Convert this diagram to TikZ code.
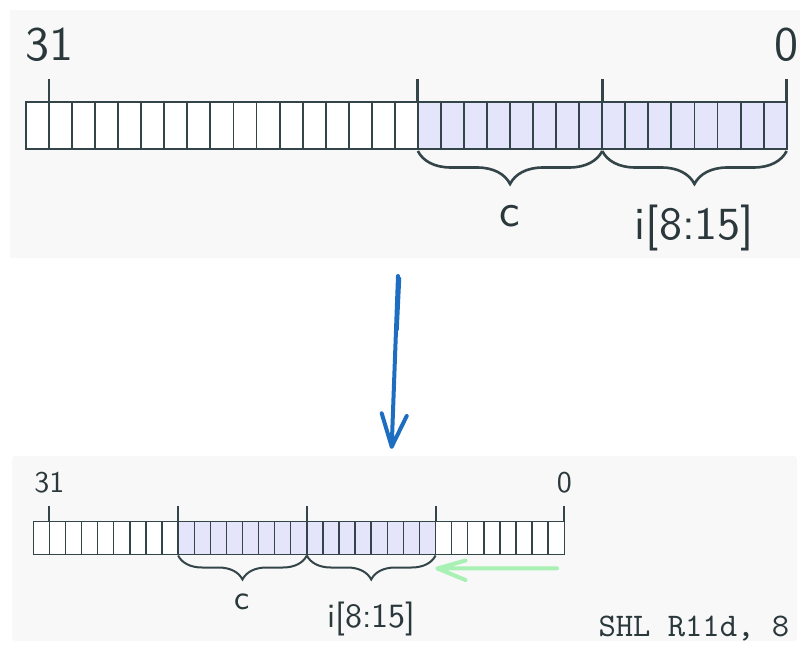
\documentclass[tikz,border=0pt]{standalone}
\usepackage{fontspec}
\usepackage{tikz}
\usetikzlibrary{arrows.meta,positioning,calc,decorations.pathreplacing}
\newfontfamily\bitsans{lmsans10-regular}[Extension=.otf]
\newfontfamily\bitmono{lmmono10-regular}[Extension=.otf]
\definecolor{regline}{HTML}{34454A}
\definecolor{regfill}{HTML}{E4E4FA}
\definecolor{panel}{HTML}{F8F8F8}
\definecolor{inkblue}{HTML}{1D6EC0}
\definecolor{inkgreen}{HTML}{A8F0B4}

\begin{document}
\begin{tikzpicture}[x=1pt,y=-1pt,
  cell/.style={draw=regline,line width=#1},
  tickmark/.style={draw=regline,line width=#1},
  regbrace/.style={draw=regline,decorate,decoration={brace,mirror,amplitude=#1}},
  bitlab/.style={inner sep=0pt,text=regline!80!black,font=\bitsans\fontsize{#1}{#1}\selectfont},
  ink/.style={line width=4pt,line cap=round,line join=round}]
\useasboundingbox (0,0) rectangle (809,650);
\fill[panel] (10,10) rectangle (800,258);
\fill[panel,rounded corners=3pt] (12,456) rectangle (797,641);

% before: c in bits 15..8, i[8:15] in bits 7..0
\fill[white] (26,101.7) rectangle (417.9,149);
\fill[regfill] (417.9,101.7) rectangle (786.7,149);
\foreach \i in {0,...,32} \draw[cell=1.9pt] ({26+23.05*\i},101.7) rectangle ++(23.05,47.3);
\foreach \k/\n in {1/ta,17/tb,25/tc,33/td} {
  \coordinate (\n) at ({26+23.05*\k},101.7);
  \coordinate (\n b) at ({26+23.05*\k},151);
  \draw[tickmark=2.8pt] (\n) -- ++(0,-22.4);}
\node[bitlab=48,above=39.5pt of ta] (hi1) {31};
\node[bitlab=48,above=39.5pt of td] (lo1) {0};
\draw[regbrace=33pt,line width=2.6pt] (tbb) -- (tcb) node[midway,below=53pt,bitlab=46] (c1) {c};
\draw[regbrace=33pt,line width=2.6pt] (tcb) -- (tdb) node[midway,below=53pt,bitlab=46] (i1) {i[8:15]};

% hand-drawn arrow between the two states
\coordinate (ds) at (398,276);
\coordinate (de) at (391.7,446.7);
\draw[ink,inkblue] (ds) -- (de) (de) -- ++(-10,-33.4) (de) -- ++(15,-30.7);
\draw[ink,inkblue,line width=2.5pt] (400,278) -- (397.5,330);

% after the shift by 8
\fill[white] (33.3,521.7) rectangle (564.3,554.3);
\fill[regfill] (178.1,521.7) rectangle (435.6,554.3);
\foreach \i in {0,...,32} \draw[cell=1.4pt] ({33.3+16.09*\i},521.7) rectangle ++(16.09,32.6);
\foreach \k/\n in {1/ba,9/bb,17/bc,25/bd,33/be} {
  \coordinate (\n) at ({33.3+16.09*\k},521.7);
  \coordinate (\n b) at ({33.3+16.09*\k},555.5);
  \draw[tickmark=2pt] (\n) -- ++(0,-15.7);}
\node[bitlab=30,above=28.7pt of ba] (hi2) {31};
\node[bitlab=30,above=28.7pt of be] (lo2) {0};
\draw[regbrace=24pt,line width=2pt] (bbb) -- (bcb) node[midway,below=37.5pt,bitlab=34] (c2) {c};
\draw[regbrace=24pt,line width=2pt] (bcb) -- (bdb) node[midway,below=45pt,bitlab=34] (i2) {i[8:15]};

\coordinate (gs) at (557,568.3);
\coordinate (ge) at (437.5,568.5);
\draw[ink,inkgreen] (gs) -- (ge) -- ++(28,-8) (ge) -- ++(28,11.5);
\node[anchor=base west,inner sep=0pt,text=regline!80!black,font=\bitmono\fontsize{33}{33}\selectfont] (cmd) at (598.3,636.7) {SHL R11d, 8};
\end{tikzpicture}
\end{document}
